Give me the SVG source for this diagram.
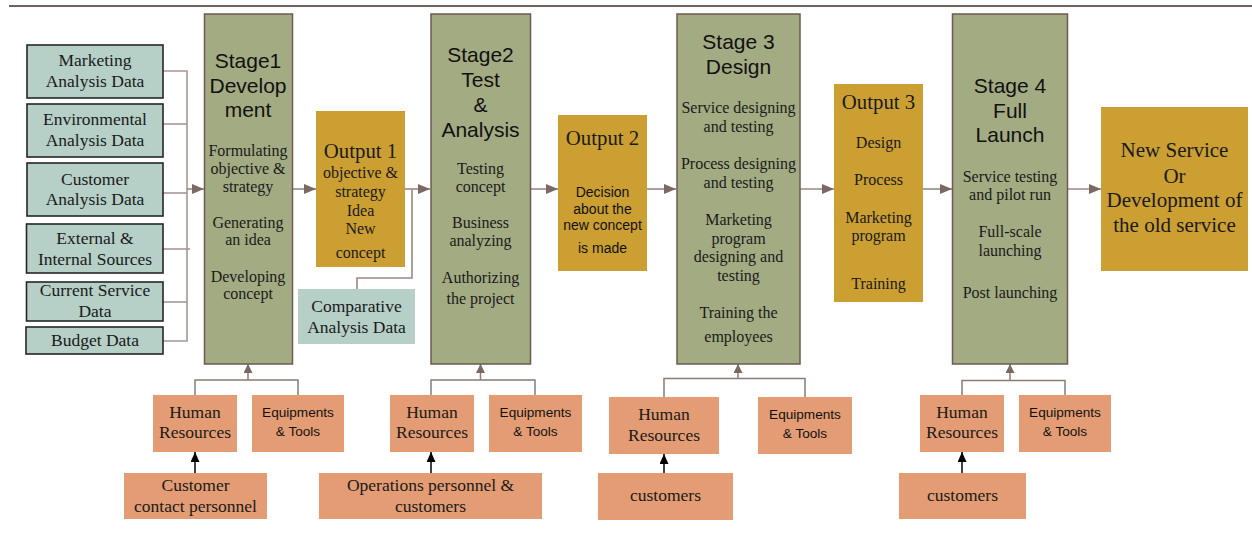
<svg xmlns="http://www.w3.org/2000/svg" width="1252" height="533" viewBox="0 0 1252 533">
  <style>
    .src { fill: #b6cfc7; stroke: #262626; stroke-width: 1.6; }
    .cmp { fill: #b6cfc7; }
    .stage { fill: #a3ab82; stroke: #6e5a52; stroke-width: 1.5; }
    .out { fill: #cc9f33; }
    .res { fill: #e39c73; }
    .serif { font-family: "Liberation Serif", "Times New Roman", serif; fill: #1a1a1a; text-anchor: middle; }
    .sans { font-family: "Liberation Sans", Arial, sans-serif; fill: #111; text-anchor: middle; }
    .t16 { font-size: 16px; }
    .t17 { font-size: 17.5px; }
    .t20 { font-size: 20.8px; }
    .t21 { font-size: 21px; }
    .h20 { font-size: 21px; }
    .s14 { font-size: 14px; }
    .s13 { font-size: 13.6px; }
    .feed { fill: none; stroke: #a69893; stroke-width: 1.6; }
    .flow { fill: none; stroke: #9a8984; stroke-width: 1.6; }
    .up { fill: none; stroke: #8c7b75; stroke-width: 1.5; }
    .blk { fill: none; stroke: #111; stroke-width: 1.6; }
  </style>
  <defs>
    <marker id="arr" viewBox="0 0 12 10" refX="12" refY="5" markerWidth="12" markerHeight="10" markerUnits="userSpaceOnUse" orient="auto">
      <path d="M0,0 L12,5 L0,10 z" fill="#7a6862"/>
    </marker>
    <marker id="arrUp" viewBox="0 0 10 9" refX="9" refY="4.5" markerWidth="10" markerHeight="9" markerUnits="userSpaceOnUse" orient="auto">
      <path d="M0,0 L9,4.5 L0,9 z" fill="#7a6862"/>
    </marker>
    <marker id="arrBlk" viewBox="0 0 10 9" refX="10" refY="4.5" markerWidth="10" markerHeight="9" markerUnits="userSpaceOnUse" orient="auto">
      <path d="M0,0 L10,4.5 L0,9 z" fill="#000"/>
    </marker>
  </defs>

  <rect width="1252" height="533" fill="#fff"/>
  <!-- header rule -->
  <line x1="9" y1="6" x2="1252" y2="6" stroke="#6f6360" stroke-width="1.8"/>

  <!-- connectors -->
  <g id="connectors">
    <!-- data sources feeding stage 1 -->
    <polyline class="feed" points="163,71 187,71 187,341 163,341"/>
    <line class="feed" x1="163" y1="124" x2="187" y2="124"/>
    <line class="feed" x1="163" y1="193" x2="187" y2="193"/>
    <line class="feed" x1="163" y1="249" x2="190" y2="249"/>
    <line class="feed" x1="163" y1="302" x2="187" y2="302"/>
    <line class="flow" x1="187" y1="189" x2="204" y2="189" marker-end="url(#arr)"/>
    <!-- main flow -->
    <line class="flow" x1="292" y1="189" x2="316" y2="189" marker-end="url(#arr)"/>
    <line class="flow" x1="405" y1="189" x2="430" y2="189" marker-end="url(#arr)"/>
    <polyline class="flow" points="357,289 357,278 412,278 412,189"/>
    <line class="flow" x1="530" y1="189" x2="558" y2="189" marker-end="url(#arr)"/>
    <line class="flow" x1="647" y1="189" x2="676" y2="189" marker-end="url(#arr)"/>
    <line class="flow" x1="800" y1="189" x2="834" y2="189" marker-end="url(#arr)"/>
    <line class="flow" x1="923" y1="189" x2="952" y2="189" marker-end="url(#arr)"/>
    <line class="flow" x1="1068" y1="189" x2="1101" y2="189" marker-end="url(#arr)"/>
    <!-- resources into stages -->
    <polyline class="up" points="195,395 195,380 298,380 298,395"/>
    <line class="up" x1="248" y1="380" x2="248" y2="364" marker-end="url(#arrUp)"/>
    <polyline class="up" points="431,395 431,380 535,380 535,395"/>
    <line class="up" x1="480.5" y1="380" x2="480.5" y2="364" marker-end="url(#arrUp)"/>
    <polyline class="up" points="664,397 664,378.5 805,378.5 805,397"/>
    <line class="up" x1="738" y1="378.5" x2="738" y2="364" marker-end="url(#arrUp)"/>
    <polyline class="up" points="962,395 962,380.5 1065,380.5 1065,395"/>
    <line class="up" x1="1010" y1="380.5" x2="1010" y2="364" marker-end="url(#arrUp)"/>
    <!-- people into human resources -->
    <line class="blk" x1="195" y1="473" x2="195" y2="452" marker-end="url(#arrBlk)"/>
    <line class="blk" x1="431" y1="473" x2="431" y2="452" marker-end="url(#arrBlk)" stroke="#555"/>
    <line class="blk" x1="664" y1="473" x2="664" y2="454" marker-end="url(#arrBlk)" stroke="#555"/>
    <line class="blk" x1="962" y1="473" x2="962" y2="452" marker-end="url(#arrBlk)"/>
  </g>

  <!-- data sources -->
  <g id="marketing-data">
    <rect class="src" x="27" y="45" width="136" height="53"/>
    <text class="serif t17" x="95" y="66">Marketing</text>
    <text class="serif t17" x="95" y="87">Analysis Data</text>
  </g>
  <g id="environmental-data">
    <rect class="src" x="27" y="104" width="136" height="53"/>
    <text class="serif t17" x="95" y="125">Environmental</text>
    <text class="serif t17" x="95" y="146">Analysis Data</text>
  </g>
  <g id="customer-data">
    <rect class="src" x="27" y="163" width="136" height="53"/>
    <text class="serif t17" x="95" y="185">Customer</text>
    <text class="serif t17" x="95" y="205">Analysis Data</text>
  </g>
  <g id="external-internal">
    <rect class="src" x="26.5" y="224" width="136.5" height="49"/>
    <text class="serif t17" x="95" y="244">External &amp;</text>
    <text class="serif t17" x="95" y="265">Internal Sources</text>
  </g>
  <g id="current-service">
    <rect class="src" x="26.5" y="282" width="136.5" height="39"/>
    <text class="serif t17" x="95" y="296">Current Service</text>
    <text class="serif t17" x="95" y="317">Data</text>
  </g>
  <g id="budget-data">
    <rect class="src" x="26" y="327" width="137" height="27"/>
    <text class="serif t17" x="95" y="346">Budget Data</text>
  </g>

  <!-- stage 1 -->
  <g id="stage1">
    <rect class="stage" x="204.5" y="14" width="88" height="350"/>
    <text class="sans h20" x="248" y="68">Stage1</text>
    <text class="sans h20" x="248" y="93">Develop</text>
    <text class="sans h20" x="248" y="117">ment</text>
    <text class="serif t16" x="248" y="156">Formulating</text>
    <text class="serif t16" x="248" y="174">objective &amp;</text>
    <text class="serif t16" x="248" y="192">strategy</text>
    <text class="serif t16" x="248" y="228">Generating</text>
    <text class="serif t16" x="248" y="245">an idea</text>
    <text class="serif t16" x="248" y="282">Developing</text>
    <text class="serif t16" x="248" y="299">concept</text>
  </g>

  <!-- output 1 -->
  <g id="output1">
    <rect class="out" x="316" y="111" width="89" height="156"/>
    <text class="serif t20" x="360.5" y="158">Output 1</text>
    <text class="serif t16" x="360.5" y="178">objective &amp;</text>
    <text class="serif t16" x="360.5" y="197">strategy</text>
    <text class="serif t16" x="360.5" y="216">Idea</text>
    <text class="serif t16" x="360.5" y="234">New</text>
    <text class="serif t16" x="360.5" y="258">concept</text>
  </g>

  <g id="comparative-data">
    <rect class="cmp" x="298" y="289" width="117" height="55"/>
    <text class="serif t17" x="356.5" y="312">Comparative</text>
    <text class="serif t17" x="356.5" y="333">Analysis Data</text>
  </g>

  <!-- stage 2 -->
  <g id="stage2">
    <rect class="stage" x="431" y="14" width="99.5" height="350"/>
    <text class="sans h20" x="480.5" y="62">Stage2</text>
    <text class="sans h20" x="480.5" y="87">Test</text>
    <text class="sans h20" x="480.5" y="112">&amp;</text>
    <text class="sans h20" x="480.5" y="137">Analysis</text>
    <text class="serif t16" x="480.5" y="174">Testing</text>
    <text class="serif t16" x="480.5" y="192">concept</text>
    <text class="serif t16" x="480.5" y="228">Business</text>
    <text class="serif t16" x="480.5" y="246">analyzing</text>
    <text class="serif t16" x="480.5" y="283">Authorizing</text>
    <text class="serif t16" x="480.5" y="304">the project</text>
  </g>

  <!-- output 2 -->
  <g id="output2">
    <rect class="out" x="558" y="115" width="89" height="156"/>
    <text class="serif t20" x="602.5" y="145">Output 2</text>
    <text class="sans s14" x="602.5" y="197">Decision</text>
    <text class="sans s14" x="602.5" y="214">about the</text>
    <text class="sans s14" x="602.5" y="230">new concept</text>
    <text class="sans s14" x="602.5" y="253">is made</text>
  </g>

  <!-- stage 3 -->
  <g id="stage3">
    <rect class="stage" x="677" y="14" width="123" height="350"/>
    <text class="sans h20" x="738.5" y="49">Stage 3</text>
    <text class="sans h20" x="738.5" y="74">Design</text>
    <text class="serif t16" x="738.5" y="113">Service designing</text>
    <text class="serif t16" x="738.5" y="132">and testing</text>
    <text class="serif t16" x="738.5" y="169">Process designing</text>
    <text class="serif t16" x="738.5" y="188">and testing</text>
    <text class="serif t16" x="738.5" y="225">Marketing</text>
    <text class="serif t16" x="738.5" y="244">program</text>
    <text class="serif t16" x="738.5" y="262">designing and</text>
    <text class="serif t16" x="738.5" y="281">testing</text>
    <text class="serif t16" x="738.5" y="318">Training the</text>
    <text class="serif t16" x="738.5" y="342">employees</text>
  </g>

  <!-- output 3 -->
  <g id="output3">
    <rect class="out" x="834" y="84" width="89" height="218"/>
    <text class="serif t20" x="878.5" y="109">Output 3</text>
    <text class="serif t16" x="878.5" y="148">Design</text>
    <text class="serif t16" x="878.5" y="185">Process</text>
    <text class="serif t16" x="878.5" y="223">Marketing</text>
    <text class="serif t16" x="878.5" y="241">program</text>
    <text class="serif t16" x="878.5" y="289">Training</text>
  </g>

  <!-- stage 4 -->
  <g id="stage4">
    <rect class="stage" x="952.5" y="14" width="115" height="350"/>
    <text class="sans h20" x="1010" y="93">Stage 4</text>
    <text class="sans h20" x="1010" y="118">Full</text>
    <text class="sans h20" x="1010" y="142">Launch</text>
    <text class="serif t16" x="1010" y="182">Service testing</text>
    <text class="serif t16" x="1010" y="200">and pilot run</text>
    <text class="serif t16" x="1010" y="237">Full-scale</text>
    <text class="serif t16" x="1010" y="256">launching</text>
    <text class="serif t16" x="1010" y="298">Post launching</text>
  </g>

  <!-- final result -->
  <g id="result">
    <rect class="out" x="1101" y="107" width="147" height="164"/>
    <text class="serif t21" x="1174.5" y="157">New Service</text>
    <text class="serif t21" x="1174.5" y="183">Or</text>
    <text class="serif t21" x="1174.5" y="207">Development of</text>
    <text class="serif t21" x="1174.5" y="232">the old service</text>
  </g>

  <!-- resources for stage 1 -->
  <g id="hr1">
    <rect class="res" x="153" y="395" width="84" height="57"/>
    <text class="serif t17" x="195" y="418">Human</text>
    <text class="serif t17" x="195" y="438">Resources</text>
  </g>
  <g id="tools1">
    <rect class="res" x="252" y="395" width="92" height="57"/>
    <text class="sans s13" x="298" y="417">Equipments</text>
    <text class="sans s13" x="298" y="436">&amp; Tools</text>
  </g>
  <g id="contact-personnel">
    <rect class="res" x="124" y="473" width="143" height="46"/>
    <text class="serif t17" x="195.5" y="491">Customer</text>
    <text class="serif t17" x="195.5" y="512">contact personnel</text>
  </g>

  <!-- resources for stage 2 -->
  <g id="hr2">
    <rect class="res" x="390" y="395" width="84" height="57"/>
    <text class="serif t17" x="432" y="418">Human</text>
    <text class="serif t17" x="432" y="438">Resources</text>
  </g>
  <g id="tools2">
    <rect class="res" x="489" y="395" width="93" height="57"/>
    <text class="sans s13" x="535.5" y="417">Equipments</text>
    <text class="sans s13" x="535.5" y="436">&amp; Tools</text>
  </g>
  <g id="operations-personnel">
    <rect class="res" x="319" y="473" width="223" height="46"/>
    <text class="serif t17" x="430.5" y="491">Operations personnel &amp;</text>
    <text class="serif t17" x="430.5" y="512">customers</text>
  </g>

  <!-- resources for stage 3 -->
  <g id="hr3">
    <rect class="res" x="609" y="397" width="110" height="57"/>
    <text class="serif t17" x="664" y="420">Human</text>
    <text class="serif t17" x="664" y="441">Resources</text>
  </g>
  <g id="tools3">
    <rect class="res" x="758" y="397" width="94" height="57"/>
    <text class="sans s13" x="805" y="419">Equipments</text>
    <text class="sans s13" x="805" y="438">&amp; Tools</text>
  </g>
  <g id="customers3">
    <rect class="res" x="598" y="473" width="135" height="47"/>
    <text class="serif t17" x="665.5" y="501">customers</text>
  </g>

  <!-- resources for stage 4 -->
  <g id="hr4">
    <rect class="res" x="920" y="395" width="84" height="57"/>
    <text class="serif t17" x="962" y="418">Human</text>
    <text class="serif t17" x="962" y="438">Resources</text>
  </g>
  <g id="tools4">
    <rect class="res" x="1019" y="395" width="92" height="57"/>
    <text class="sans s13" x="1065" y="417">Equipments</text>
    <text class="sans s13" x="1065" y="436">&amp; Tools</text>
  </g>
  <g id="customers4">
    <rect class="res" x="899" y="473" width="127" height="46"/>
    <text class="serif t17" x="962.5" y="501">customers</text>
  </g>
</svg>
